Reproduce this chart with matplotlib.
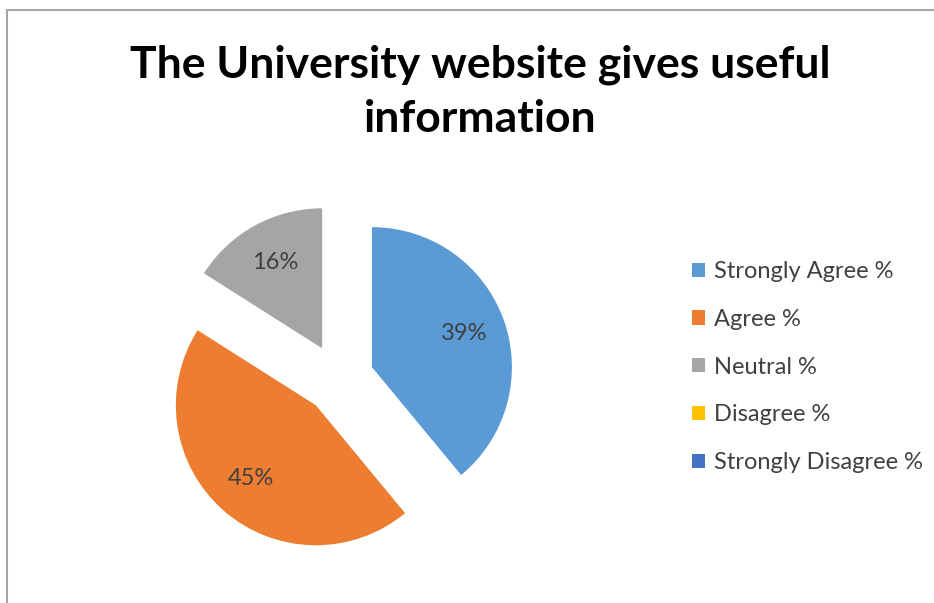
import matplotlib
matplotlib.use("Agg")
import matplotlib.pyplot as plt
from matplotlib.patches import Patch, Rectangle

title = "The University website gives useful\ninformation"
categories = ["Strongly Agree %", "Agree %", "Neutral %", "Disagree %", "Strongly Disagree %"]
values = [39, 45, 16, 0, 0]
colors = ["#5B9BD5", "#ED7D31", "#A5A5A5", "#FFC000", "#4472C4"]

W, H = 934, 603
fig = plt.figure(figsize=(W / 100, H / 100), dpi=100)
fig.patch.set_facecolor("white")

# chart border (top and left visible)
fig.add_artist(Rectangle((7 / W, -0.1), 1.2, 1 - 10 / H + 0.1, transform=fig.transFigure,
                         fill=False, edgecolor="#a6a6a6", linewidth=1.5))

fam = ["Lato", "DejaVu Sans"]
fig.text(480 / W, 1 - 92 / H, title, ha="center", va="center", fontsize=32,
         fontweight="bold", family=fam, linespacing=1.42, color="#000000")

cx, cy, r = 339, 379, 140
box = 3 * r
ax = fig.add_axes([(cx - box / 2) / W, (H - cy - box / 2) / H, box / W, box / H])


def fmt(p):
    return f"{p:.0f}%" if p > 0.5 else ""


wedges, texts, autotexts = ax.pie(values, colors=colors, startangle=90, counterclock=False,
                                  explode=[0.25] * len(values), autopct=fmt, pctdistance=0.7,
                                  wedgeprops=dict(linewidth=0),
                                  textprops=dict(fontsize=17, color="#404040", family=fam))
ax.set_xlim(-1.5, 1.5)
ax.set_ylim(-1.5, 1.5)
ax.set_aspect("equal")
ax.axis("off")

handles = [Patch(facecolor=c, edgecolor="none") for c in colors]
fig.legend(handles, categories, loc="upper left", bbox_to_anchor=(671 / W, 1 - 240 / H),
           frameon=False, labelspacing=1.13, handlelength=0.55, handleheight=0.55,
           handletextpad=0.35, prop=dict(family=fam, size=17), labelcolor="#404040")

fig.savefig("out.png", dpi=100, facecolor="white")
